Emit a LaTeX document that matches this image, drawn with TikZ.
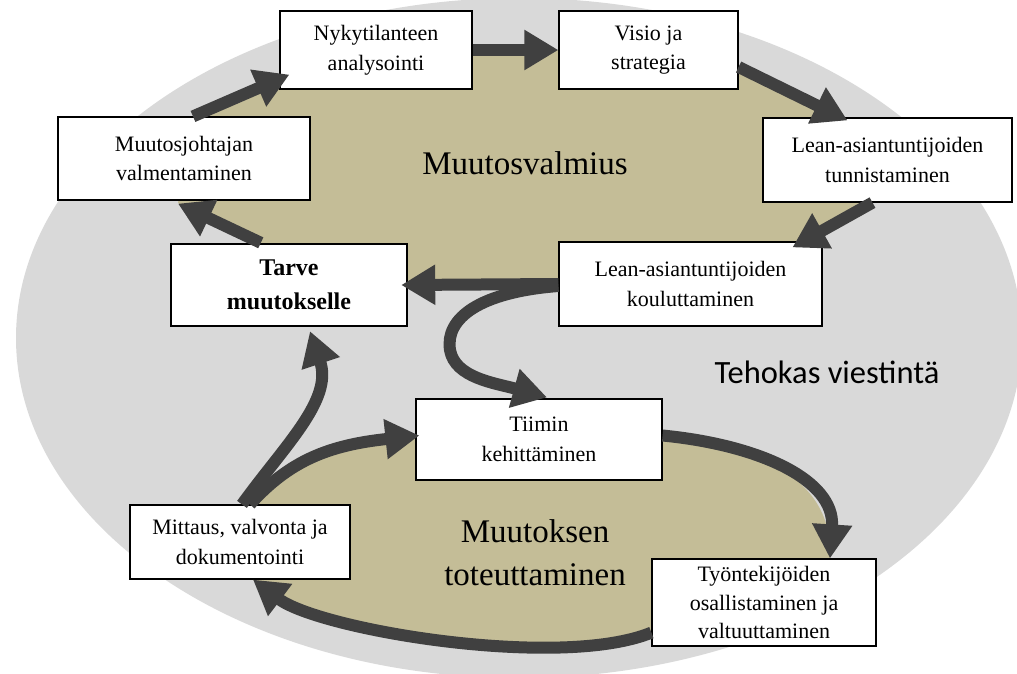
\documentclass[tikz,border=0pt]{standalone}
\usepackage{fontspec}
\setmainfont{Liberation Serif}
\newfontfamily\calibrilike{Carlito}
\usetikzlibrary{arrows.meta}
\definecolor{ringgrey}{RGB}{217,217,217}
\definecolor{phasetan}{RGB}{196,189,151}
\definecolor{arrowdark}{RGB}{64,64,64}
\tikzset{
  stepbox/.style={draw=black, line width=1.2pt, fill=white, align=center,
    inner sep=2pt, font=\fontsize{22}{29.5}\selectfont},
  keybox/.style={stepbox, line width=2.4pt, font=\fontsize{24}{34}\selectfont\bfseries},
  flow/.style={draw=arrowdark, line width=12pt,
    -{Triangle[width=38pt,length=34pt]}},
  phase/.style={font=\fontsize{33}{43}\selectfont, align=center},
}
\begin{document}
\begin{tikzpicture}[x=1pt,y=-1pt]
\useasboundingbox (0,0) rectangle (1017,673);
% outer communication field
\fill[ringgrey] (519,338) ellipse [x radius=503, y radius=340];
% readiness area
\fill[phasetan] (193,117) -- (290,74) -- (472,50) -- (559,50) -- (738,67)
  -- (847,122) -- (872,202) -- (793,248) -- (559,284) -- (400,284)
  -- (262,244) -- (178,203) -- cycle;
% implementation area
\fill[phasetan] (255,503) .. controls (290,460) and (330,445) .. (420,435)
  -- (662,436) .. controls (760,445) and (835,480) .. (830,560)
  -- (652,632) .. controls (560,670) and (320,630) .. (253,580) -- cycle;

\node[phase] (valm) at (525,163) {Muutosvalmius};
\node[phase] (tot) at (535,553) {Muutoksen\\toteuttaminen};
\node[font=\calibrilike\fontsize{32.5}{38}\selectfont] (viest) at (827,372) {Tehokas viestintä};

% boxes
\node[stepbox, minimum width=192pt, minimum height=78pt] (nyky) at (376,50) {Nykytilanteen\\analysointi};
\node[stepbox, minimum width=179pt, minimum height=78pt] (visio) at (648.5,50) {Visio ja\\strategia};
\node[stepbox, minimum width=249pt, minimum height=84pt] (tunn) at (887.5,160) {Lean-asiantuntijoiden\\tunnistaminen};
\node[stepbox, minimum width=263pt, minimum height=84pt] (koul) at (690.5,284) {Lean-asiantuntijoiden\\kouluttaminen};
\node[stepbox, minimum width=252pt, minimum height=83pt] (valmen) at (184,158.5) {Muutosjohtajan\\valmentaminen};
\node[keybox, minimum width=236pt, minimum height=82pt] (tarve) at (289,285) {Tarve\\muutokselle};
\node[stepbox, minimum width=246pt, minimum height=81pt] (tiimi) at (539,439.5) {Tiimin\\kehittäminen};
\node[stepbox, minimum width=220pt, minimum height=74pt] (mitt) at (240,542) {Mittaus, valvonta ja\\dokumentointi};
\node[stepbox, minimum width=224pt, minimum height=87pt, font=\fontsize{22}{28.5}\selectfont] (tyon) at (764,602.5) {Työntekijöiden\\osallistaminen ja\\valtuuttaminen};

% readiness cycle
\draw[flow] (tarve.north west) ++(91,0) -- ([xshift=-6pt,yshift=-3pt]valmen.south);
\draw[flow] (valmen.north) ++(9,0) -- ([xshift=10pt,yshift=15pt]nyky.south west);
\draw[flow] (nyky.east) -- (visio.west);
\draw[flow] ([yshift=-17pt]visio.east) -- ([xshift=-40pt,yshift=-3pt]tunn.north);
\draw[flow] ([xshift=-15pt]tunn.south) -- ([xshift=234pt,yshift=-6pt]koul.north west);
\draw[flow] (koul.west) -- ([xshift=-7pt]tarve.east);
% hand-over to implementation
\draw[flow] ([yshift=-2pt]koul.west) .. controls (480,292) and (445,318) .. (450,350)
  .. controls (455,378) and (495,383) .. ([xshift=8pt,yshift=1pt]tiimi.north);
% implementation cycle
\draw[flow] ([xshift=10pt]mitt.north) .. controls (290,460) and (330,445) .. ([xshift=4pt,yshift=4pt]tiimi.west);
\draw[flow] ([yshift=4pt]tiimi.east) .. controls (760,445) and (835,480) .. ([xshift=66pt]tyon.north);
\draw[flow] ([yshift=14pt]tyon.south west) .. controls (560,670) and (320,630) .. ([xshift=13pt]mitt.south);
\draw[flow] ([xshift=2pt]mitt.north) .. controls (285,445) and (333,400) .. ([xshift=21pt,yshift=-4pt]tarve.south);
\end{tikzpicture}
\end{document}
